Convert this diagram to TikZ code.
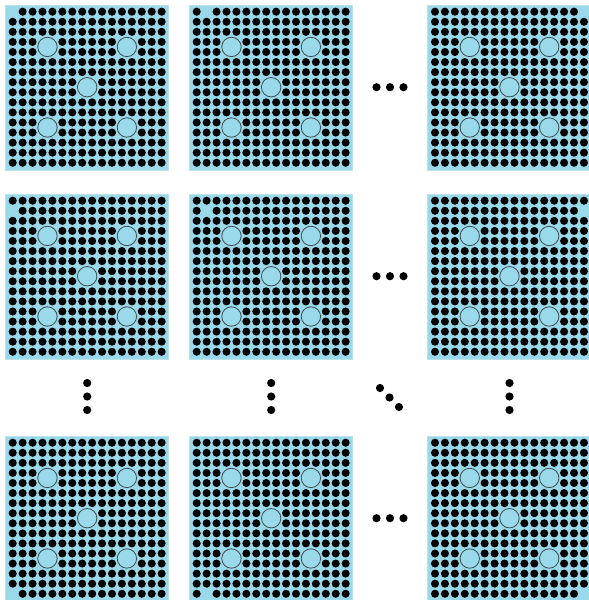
\documentclass[tikz,border=0pt]{standalone}
\definecolor{lb}{RGB}{153,217,234}
\definecolor{lbedge}{RGB}{185,226,236}
\definecolor{ring}{RGB}{60,75,80}
\tikzset{
  panelbox/.style={fill=lb, draw=lbedge, line width=1pt},
  atomdot/.style={fill=black},
  bigring/.style={fill=lb, draw=ring, line width=0.8pt},
  elldot/.style={fill=black}
}
\begin{document}
\begin{tikzpicture}[x=1pt,y=-1pt]
\useasboundingbox (0,0) rectangle (589,600);
\clip (0,0) rectangle (589,600);
\def\sx{9.93}
\def\sy{10.07}
\foreach \px/\i in {12.7/0,196.7/1,435/2} {
  \foreach \py/\j in {11.7/0,200.7/1,442.7/2} {
    \pgfmathtruncatemacro\mr{\j==2 ? 15 : \j}
    \pgfmathtruncatemacro\mc{\i==2 ? 15 : \i}
    \draw[panelbox] (\px-7.7,\py-6.7) rectangle (\px+15*\sx+6.5,\py+15*\sy+7.3);
    \foreach \r in {0,...,15} {
      \foreach \c in {0,...,15} {
        \pgfmathtruncatemacro\myskip{((\r==\mr)&&(\c==\mc)) || (((\r==3)||(\r==4)||(\r==11)||(\r==12)) && ((\c==3)||(\c==4)||(\c==11)||(\c==12))) || (((\r==7)||(\r==8)) && ((\c==7)||(\c==8)))}
        \ifnum\myskip=0
          \fill[atomdot] (\px+\c*\sx,\py+\r*\sy) circle (4.05);
        \fi
      }
    }
    \foreach \cc/\rr in {3.5/3.5,11.5/3.5,7.5/7.5,3.5/11.5,11.5/11.5} {
      \draw[bigring] (\px+\cc*\sx,\py+\rr*\sy) circle (9.7);
    }
  }
}
% horizontal ellipses
\foreach \yy in {87.2,276.2,518.2} {
  \foreach \xx in {376.5,390,403.5} {
    \fill[elldot] (\xx,\yy) circle (4.1);
  }
}
% vertical ellipses
\foreach \xx in {87.2,271.2,509.5} {
  \foreach \yy in {383,396.5,410} {
    \fill[elldot] (\xx,\yy) circle (4.1);
  }
}
% diagonal ellipsis
\fill[elldot] (380,388) circle (4.1);
\fill[elldot] (389.5,397.5) circle (4.1);
\fill[elldot] (399,407) circle (4.1);
\end{tikzpicture}
\end{document}
